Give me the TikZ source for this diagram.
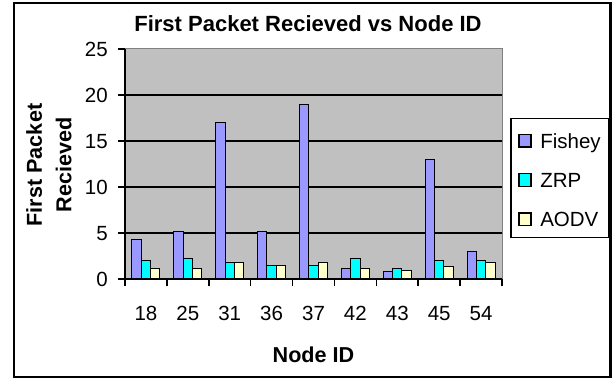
\documentclass[tikz,border=0pt]{standalone}
\usepackage{fontspec}
\setmainfont{Liberation Sans}
\usetikzlibrary{positioning}
\definecolor{fisheyfill}{HTML}{9999FF}
\definecolor{zrpfill}{HTML}{00FFFF}
\definecolor{aodvfill}{HTML}{FFFFCC}
\definecolor{plotfill}{HTML}{C0C0C0}
\definecolor{plotedge}{HTML}{808080}
\tikzset{
  pktframe/.style  = {draw=black, line width=2.3pt},
  pktgrid/.style   = {draw=black, line width=1.6pt},
  pktaxis/.style   = {draw=black, line width=1.6pt},
  pktbar/.style    = {draw=black, line width=1pt},
  pkttick/.style   = {font=\fontsize{20.5}{20.5}\selectfont, inner sep=0pt,
                      text height=14.7pt, text depth=0pt},
  pkttitle/.style  = {font=\bfseries\fontsize{22}{22}\selectfont, inner sep=0pt},
  pktaxtitle/.style= {font=\bfseries\fontsize{21.6}{29.5}\selectfont,
                      inner sep=0pt, align=center},
  pktswatch/.style = {draw=black, line width=1.2pt, minimum width=12pt,
                      minimum height=12.5pt, inner sep=0pt},
  pktlegend/.style = {draw=black, line width=1.5pt, fill=white,
                      minimum width=98pt, minimum height=118.8pt}
}
\begin{document}
\begin{tikzpicture}[x=1pt, y=1pt]
  \useasboundingbox (0,0) rectangle (612,379);
  \draw[pktframe] (13.8,1.7) rectangle (610.5,376.2);

  \node[pkttitle, anchor=base] (title) at (308,347.3)
        {First Packet Recieved vs Node ID};

  \begin{scope}[shift={(125,100)}, x=41.889pt, y=9.2pt]
    \fill[plotfill] (0,0) rectangle (9,25);
    \draw[plotedge, line width=1pt] (0,25) -- (9,25) -- (9,0);
    \foreach \v in {5,10,15,20}
      \draw[pktgrid] (0,\v) -- (9,\v);

    \foreach \id/\fv/\zv/\av [count=\i from 0] in
        {18/4.3/2.0/1.1, 25/5.2/2.2/1.1, 31/17/1.8/1.8,
         36/5.2/1.5/1.5, 37/19/1.5/1.8, 42/1.1/2.2/1.1,
         43/0.8/1.1/0.9, 45/13/2.0/1.4, 54/3/2.0/1.8} {
      \draw[pktbar, fill=fisheyfill] ({\i+0.1667},0) rectangle ++(0.2222,\fv);
      \draw[pktbar, fill=zrpfill]    ({\i+0.3889},0) rectangle ++(0.2222,\zv);
      \draw[pktbar, fill=aodvfill]   ({\i+0.6111},0) rectangle ++(0.2222,\av);
      \node[pkttick, anchor=base] (xl\i) at ({\i+0.5},-4.46) {\id};
    }

    \draw[pktaxis] (0,25) -- (0,0) -- (9,0);
    \foreach \v in {0,5,...,25} {
      \draw[pktaxis] (0,\v) -- ++(-7pt,0);
      \node[pkttick, anchor=east] (yl\v) at ([xshift=-17pt]0,\v) {\v};
    }
    \foreach \c in {0,...,9}
      \draw[pktaxis] (\c,0) -- ++(0,-7pt);
  \end{scope}

  \node[pktaxtitle, anchor=base] (xtitle) at (313.5,16) {Node ID};
  \node[pktaxtitle, rotate=90] (ytitle) at (48.8,214)
        {First Packet\\Recieved};

  \node[pktlegend] (legend) at (560,201.1) {};
  \node[pktswatch, fill=fisheyfill] (fsw) at (525,238.3) {};
  \node[pktswatch, fill=zrpfill]    (zsw) at (525,199) {};
  \node[pktswatch, fill=aodvfill]   (asw) at (525,159.7) {};
  \node[pkttick, right=8.5pt of fsw] (fkey) {Fishey};
  \node[pkttick, right=8.5pt of zsw] (zkey) {ZRP};
  \node[pkttick, right=8.5pt of asw] (akey) {AODV};
\end{tikzpicture}
\end{document}
